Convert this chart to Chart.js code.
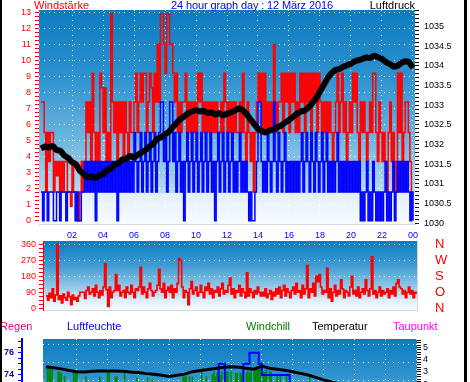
<!DOCTYPE html>
<html><head><meta charset="utf-8">
<script src="https://cdn.jsdelivr.net/npm/chart.js@4.4.1/dist/chart.umd.min.js"></script>
<style>
html,body{margin:0;padding:0;background:#fff;width:470px;height:382px;overflow:hidden;}
body{position:relative;font-family:"Liberation Sans",Arial,sans-serif;}
.t{position:absolute;font-size:11px;line-height:12px;white-space:nowrap;z-index:5;}
canvas{position:absolute;left:0;}
.frame{position:absolute;top:0;height:382px;background:#000;z-index:10;}
</style></head>
<body>
<canvas id="c1" width="466" height="242" style="top:0px"></canvas>
<canvas id="c2" width="466" height="84" style="top:236px"></canvas>
<canvas id="c3" width="466" height="130" style="top:333px"></canvas>
<div class="t" style="left:34px;top:-1px;color:#ff0000">Windstärke</div>
<div class="t" style="left:152px;width:200px;text-align:center;top:-1px;color:#0000ff;letter-spacing:-0.12px">24 hour graph day : 12 März 2016</div>
<div class="t" style="right:55px;top:-1px;color:#000">Luftdruck</div>
<div class="t" style="left:0px;top:320px;color:#e6007e">Regen</div>
<div class="t" style="left:67px;top:320px;color:#0000ff">Luftfeuchte</div>
<div class="t" style="left:246px;top:320px;color:#008000">Windchill</div>
<div class="t" style="left:312px;top:320px;color:#000">Temperatur</div>
<div class="t" style="left:393px;top:320px;color:#ff00ff">Taupunkt</div>
<div class="frame" style="left:0;width:2px"></div>
<div class="frame" style="left:464px;width:3px"></div>
<script>
// ===== data =====
const hourTicks = [2,4,6,8,10,12,14,16,18,20,22,24];
const hourLabels = ['02','04','06','08','10','12','14','16','18','20','22','00'];

// wind gust (km/h), one value every 0.1 h
const windStep = 0.1;
const gust = [
7.4,7.4,5.5,1.8,5.5,3.7,5.5,5.5,1.8,3.7,
2.8,3.7,1.8,3.7,1.8,3.7,3.7,1.8,1.8,0.9,
3.7,1.8,1.8,0,0,1.8,3.7,1.8,3.7,7.4,
5.5,7.4,3.7,9.2,5.5,3.7,5.5,3.7,9.2,8.3,
5.5,8.3,3.7,5.5,3.7,12.9,7.4,5.5,7.4,3.7,
7.4,5.5,7.4,3.7,7.4,5.5,3.7,7.4,5.5,5.5,
7.4,9.2,5.5,7.4,9.2,7.4,9.2,9.2,5.5,7.4,
9.2,8.3,5.5,9.2,7.4,11,7.4,12.9,12.9,11,
9.2,12.9,12.9,11,11,9.2,7.4,9.2,5.5,7.4,
5.5,7.4,7.4,9.2,5.5,7.4,5.5,7.4,5.5,7.4,
5.5,9.2,7.4,9.2,5.5,7.4,5.5,7.4,5.5,7.4,
5.5,7.4,5.5,7.4,5.5,5.5,7.4,5.5,9.2,7.4,
5.5,7.4,5.5,7.4,5.5,7.4,5.5,5.5,7.4,5.5,
9.2,5.5,3.7,7.4,5.5,3.7,5.5,1.8,5.5,7.4,
9.2,7.4,9.2,5.5,9.2,5.5,7.4,5.5,7.4,5.5,
11,7.4,5.5,7.4,7.4,9.2,5.5,9.2,7.4,9.2,
5.5,9.2,7.4,9.2,5.5,7.4,5.5,9.2,7.4,9.2,
5.5,9.2,7.4,9.2,5.5,9.2,7.4,9.2,5.5,9.2,
7.4,5.5,7.4,5.5,7.4,5.5,7.4,5.5,3.7,5.5,
7.4,9.2,5.5,7.4,9.2,5.5,7.4,3.7,5.5,7.4,
5.5,9.2,7.4,9.2,5.5,3.7,7.4,5.5,7.4,5.5,
3.7,5.5,7.4,5.5,9.2,9.2,5.5,3.7,7.4,5.5,
3.7,5.5,3.7,1.8,5.5,7.4,3.7,5.5,3.7,1.8,
9.2,5.5,9.2,3.7,5.5,7.4,7.4,5.5,3.7,0.9,
0.9];
// mean wind (km/h), one value every 0.1 h
const mean = [
1.8,0,1.8,1.8,0,1.8,1.8,1.8,0,0,
1.8,1.8,0,1.8,1.8,1.8,0,1.8,1.8,1.8,
1.8,1.8,0,1.8,0,0,1.8,1.8,3.7,1.8,
3.7,1.8,3.7,1.8,3.7,0,3.7,1.8,3.7,1.8,
3.7,1.8,3.7,1.8,3.7,1.8,3.7,1.8,3.7,0,
3.7,1.8,3.7,1.8,3.7,1.8,3.7,1.8,3.7,1.8,
5.5,3.7,1.8,3.7,5.5,1.8,3.7,5.5,1.8,3.7,
5.5,1.8,3.7,5.5,1.8,3.7,5.5,7.4,7.4,3.7,
5.5,1.8,3.7,7.4,7.4,3.7,5.5,1.8,3.7,5.5,
1.8,3.7,0,3.7,5.5,1.8,3.7,5.5,1.8,3.7,
5.5,1.8,3.7,5.5,1.8,3.7,5.5,1.8,3.7,5.5,
1.8,3.7,0,3.7,5.5,1.8,3.7,5.5,1.8,3.7,
5.5,1.8,3.7,5.5,1.8,3.7,1.8,3.7,5.5,1.8,
3.7,1.8,3.7,1.8,0,1.8,0,0,1.8,3.7,
7.4,7.4,3.7,1.8,3.7,1.8,5.5,3.7,1.8,3.7,
7.4,3.7,1.8,5.5,3.7,1.8,3.7,5.5,1.8,3.7,
1.8,3.7,1.8,3.7,1.8,3.7,1.8,3.7,5.5,1.8,
3.7,5.5,3.7,1.8,5.5,3.7,1.8,5.5,3.7,1.8,
3.7,5.5,1.8,3.7,5.5,1.8,3.7,1.8,3.7,1.8,
3.7,5.5,1.8,3.7,1.8,3.7,1.8,3.7,1.8,3.7,
1.8,3.7,1.8,3.7,1.8,3.7,0,1.8,0,1.8,
3.7,0,1.8,0,3.7,1.8,0,1.8,0,1.8,
0,1.8,3.7,0,1.8,0,1.8,3.7,0,1.8,
3.7,1.8,3.7,1.8,3.7,1.8,3.7,1.8,0,1.8,
0];
// air pressure (hPa), one value every 0.25 h
const pressStep = 0.25;
const pressure = [
1031.90,1031.95,1031.92,1031.97,1031.86,1031.84,1031.72,1031.66,
1031.55,1031.50,1031.33,1031.25,1031.15,1031.20,1031.13,1031.22,
1031.24,1031.34,1031.38,1031.50,1031.52,1031.62,1031.64,1031.72,
1031.66,1031.74,1031.80,1031.86,1031.95,1032.02,1032.15,1032.18,
1032.26,1032.32,1032.44,1032.55,1032.65,1032.72,1032.80,1032.84,
1032.88,1032.84,1032.86,1032.80,1032.82,1032.76,1032.80,1032.74,
1032.78,1032.82,1032.86,1032.92,1032.88,1032.78,1032.65,1032.52,
1032.40,1032.34,1032.30,1032.36,1032.38,1032.44,1032.48,1032.56,
1032.62,1032.70,1032.78,1032.84,1032.86,1032.94,1033.05,1033.18,
1033.35,1033.52,1033.70,1033.82,1033.90,1033.92,1033.98,1034.02,
1034.06,1034.12,1034.15,1034.18,1034.22,1034.20,1034.27,1034.22,
1034.18,1034.10,1034.05,1033.98,1034.00,1034.08,1034.12,1034.10,
1033.95];
// wind direction (degrees), one value every 0.1 h
const dirStep = 0.1;
const direction = [
70,45,85,60,110,40,75,360,50,70,
30,80,60,45,90,65,20,75,50,60,
40,70,90,90,90,55,100,120,80,90,
110,70,130,90,60,100,75,120,250,105,
10,120,60,90,100,190,100,130,70,90,
100,60,120,90,80,130,90,60,110,100,
120,230,80,120,90,60,110,140,100,70,
90,100,130,220,110,90,140,60,100,120,
90,130,60,110,90,140,280,270,120,60,
100,90,20,110,150,80,100,120,70,90,
130,90,60,120,100,140,80,110,60,100,
90,120,70,110,140,80,100,90,130,170,
80,110,60,100,90,130,70,110,90,60,
200,70,110,90,60,100,80,120,90,70,
90,70,110,60,80,100,50,90,70,110,
80,120,60,100,130,70,110,90,60,100,
120,80,140,90,100,60,130,80,110,240,
60,110,90,140,70,180,150,190,120,80,
100,90,225,60,110,40,90,130,70,100,
80,160,110,60,100,90,70,120,180,80,
100,70,120,60,90,110,80,160,100,70,
110,290,80,100,60,90,120,70,100,80,
90,110,60,100,80,120,70,140,160,120,
110,80,100,60,90,120,80,100,60,90,
80];
const dirTickValues = [0,90,180,270,360];
const dirTickLabels = ['N','O','S','W','N'];
// temperature (°C), one value every 0.5 h
const tempStep = 0.5;
const temperature = [
3.43,3.35,3.25,3.12,3.02,2.99,3.05,3.07,3.07,3.07,
3.05,2.99,2.95,2.86,2.80,2.72,2.62,2.72,2.82,3.02,
3.12,3.20,3.28,3.38,3.43,3.38,3.30,3.22,3.48,3.30,
3.22,3.14,3.02,2.88,2.75,2.55,2.35,2.18,2.02,1.90,
1.78,1.66,1.55,1.45,1.38,1.30,1.22,1.15,1.10];
// humidity (%), change points (value holds until next point)
const humHours = [0,11.2,11.6,12.8,13.2,13.8,14.0,15.8,24];
const humidity = [73,75,73,75,76,75,74,73,73];
// wind chill (°C), one value every 0.1 h
const chillStep = 0.1;
const windchill = [
1.5,3.3,3.3,3.2,3.3,1.5,1.5,1.5,3.0,3.0,
2.9,1.5,2.65,1.5,1.5,1.5,1.5,1.5,3.0,3.0,
2.9,1.5,1.5,1.5,1.5,1.5,2.6,1.5,1.5,1.5,
1.5,1.5,1.5,1.5,1.5,2.6,1.5,1.5,1.5,1.5,
3.0,3.0,1.5,1.5,1.5,2.6,2.6,1.5,1.5,1.5,
1.5,2.93,1.5,1.5,1.5,1.5,1.5,1.5,1.5,2.5,
1.5,1.5,1.5,1.5,1.5,1.5,2.5,1.5,1.5,2.35,
1.5,1.5,1.5,1.5,1.5,1.5,1.5,1.5,1.5,1.5,
1.5,1.5,1.5,1.5,1.5,1.5,1.5,1.5,1.5,2.6,
2.6,2.6,1.5,2.6,1.5,2.6,1.5,1.5,1.5,1.5,
1.5,3.0,1.5,1.5,2.65,1.5,1.5,1.5,2.8,3.0,
2.6,2.9,1.5,2.7,3.0,1.5,1.5,3.0,3.0,1.5,
3.0,1.5,1.5,2.9,2.9,1.5,2.9,2.9,1.5,1.5,
2.9,3.1,2.9,3.15,1.5,3.0,3.3,3.4,3.3,3.4,
1.5,3.0,3.0,3.15,1.5,3.0,3.0,1.5,1.5,1.5,
2.75,1.5,2.75,1.5,1.5,1.5,2.7,1.5,1.5,1.5,
1.5,1.5,1.5,1.5,1.5,1.5,1.5,1.5,1.5,1.5,
1.5,2.6,1.5,1.5,1.5,1.5,1.5,1.5,1.5,1.5,
1.5,1.5,1.5,1.5,1.5,1.5,1.5,1.5,1.5,1.5,
1.5,1.5,1.5,1.5,1.5,1.5,1.5,1.5,1.5,1.5,
1.5,1.5,1.5,1.5,1.5,1.5,1.5,1.5,1.5,1.5,
1.5,1.5,1.5,1.5,1.5,1.5,1.5,1.5,1.5,1.5,
1.5,1.5,1.5,1.5,1.5,1.5,1.5,1.5,1.5,1.5,
1.5,1.5,1.5,1.5,1.5,1.5,1.5,1.5,1.5,1.5,
1.5];

// ===== helpers =====
const series = (arr, step) => arr.map((v, i) => ({x: Math.round(i * step * 1000) / 1000, y: v}));
const pairs = (xs, ys) => xs.map((x, i) => ({x: x, y: ys[i]}));
const range = (a, b, s) => { const out = []; const n = Math.round((b - a) / s); for (let i = 0; i <= n; i++) out.push(Math.round((a + i * s) * 1000) / 1000); return out; };
const isMult = (v, m) => Math.abs(v / m - Math.round(v / m)) < 1e-6;
const DOT = 'rgba(255,255,255,0.9)';
const NONE = 'rgba(0,0,0,0)';
const fitW = w => s => { s.width = w; s.paddingTop = 0; s.paddingBottom = 0; };
const fitH = h => s => { s.height = h; s.paddingLeft = 0; s.paddingRight = 0; };

Chart.defaults.font.family = '"Liberation Sans", Arial, sans-serif';
Chart.defaults.font.size = 9;

const bgPlugin = {
  id: 'bg',
  beforeDraw(chart, args, opts) {
    const a = chart.chartArea, ctx = chart.ctx;
    const g = ctx.createLinearGradient(0, a.top, 0, a.bottom);
    opts.stops(chart).forEach(s => g.addColorStop(Math.max(0, Math.min(1, s[0])), s[1]));
    ctx.save(); ctx.fillStyle = g; ctx.fillRect(a.left, a.top, a.right - a.left, a.bottom - a.top); ctx.restore();
  }
};
const common = { responsive: false, animation: false, events: [], plugins: { legend: { display: false }, tooltip: { enabled: false } } };

// ===== chart 1: wind + pressure =====
new Chart(document.getElementById('c1'), {
  type: 'line',
  data: { datasets: [
    { data: series(pressure, pressStep), yAxisID: 'yP', borderColor: '#000', borderWidth: 6, pointRadius: 0, tension: 0, borderJoinStyle: 'bevel' },
    { data: series(mean, windStep), yAxisID: 'yW', borderColor: '#0000ff', borderWidth: 1.5, stepped: true, pointRadius: 0 },
    { data: series(gust, windStep), yAxisID: 'yW', borderColor: '#ff0000', borderWidth: 1.5, stepped: true, pointRadius: 0 }
  ]},
  options: Object.assign({}, common, {
    layout: { padding: { top: 10, left: 0, right: 0, bottom: 0 } },
    plugins: Object.assign({}, common.plugins, { bg: { stops: ch => {
      const a = ch.chartArea, f = (ch.scales.yW.getPixelForValue(1.84) - a.top) / (a.bottom - a.top) + 0.01;
      return [[0, '#0b7cc1'], [0.3, '#2b90cf'], [0.6, '#6cb5e0'], [f - 0.002, '#b6dbef'], [f, '#e2f0f9'], [1, '#f7fbfe']];
    } } }),
    scales: {
      x: { type: 'linear', min: -0.13, max: 24.13,
        afterBuildTicks: s => { s.ticks = hourTicks.map(v => ({ value: v })); },
        afterFit: fitH(18),
        ticks: { autoSkip: false, maxRotation: 0, color: '#0000ff', padding: 6, callback: v => hourLabels[hourTicks.indexOf(v)] },
        grid: { color: DOT, drawTicks: false },
        border: { color: '#d6d6d6', dash: [1, 4] } },
      yW: { position: 'left', min: -0.2, max: 13.14,
        afterBuildTicks: s => { s.ticks = range(0, 13, 0.25).map(v => ({ value: v })); },
        afterFit: fitW(39),
        ticks: { autoSkip: false, color: '#ff0000', padding: 4, callback: v => Number.isInteger(v) ? String(v) : '' },
        grid: { color: c => (c.tick && Number.isInteger(c.tick.value)) ? DOT : NONE, tickColor: '#ff0000', tickLength: 4 },
        border: { display: false, dash: [1, 4] } },
      yP: { position: 'right', min: 1029.975, max: 1035.425,
        afterBuildTicks: s => { s.ticks = range(1030, 1035.4, 0.1).map(v => ({ value: v })); },
        afterFit: fitW(51),
        ticks: { autoSkip: false, color: '#000', padding: 5, callback: v => isMult(v, 0.5) ? String(Math.round(v * 10) / 10) : '' },
        grid: { drawOnChartArea: false, tickColor: '#000', tickLength: 4 },
        border: { display: false } }
    }
  }),
  plugins: [bgPlugin]
});

// ===== chart 2: wind direction =====
new Chart(document.getElementById('c2'), {
  type: 'line',
  data: { datasets: [
    { data: series(direction, dirStep), yAxisID: 'yD', borderColor: '#ff0000', borderWidth: 1.6, stepped: true, pointRadius: 0 }
  ]},
  options: Object.assign({}, common, {
    layout: { padding: { top: 5, left: 0, right: 0, bottom: 10 } },
    plugins: Object.assign({}, common.plugins, { bg: { stops: () => [[0, '#0b7cc1'], [0.35, '#3d9bd3'], [0.7, '#9ccdea'], [0.85, '#dcedf8'], [1, '#f7fbfe']] } }),
    scales: {
      x: { type: 'linear', min: -0.19, max: 24.06,
        afterFit: fitH(0),
        ticks: { display: false }, grid: { display: false },
        border: { color: '#d6d6d6' } },
      yD: { position: 'left', min: -9.6, max: 378.6,
        afterBuildTicks: s => { s.ticks = range(0, 360, 22.5).map(v => ({ value: v })); },
        afterFit: fitW(43),
        ticks: { autoSkip: false, color: '#ff0000', padding: 3, callback: v => isMult(v, 90) ? String(v) : '' },
        grid: { color: c => (c.tick && isMult(c.tick.value, 90) && c.tick.value > 0) ? DOT : NONE, tickColor: '#ff0000', tickLength: 4 },
        border: { color: '#ff0000', dash: [1, 4] } },
      yN: { position: 'right', min: -9.6, max: 378.6,
        afterBuildTicks: s => { s.ticks = dirTickValues.map(v => ({ value: v })); },
        afterFit: fitW(49),
        ticks: { autoSkip: false, color: '#ff0000', padding: 18, font: { size: 13, family: '"Liberation Sans Narrow", "Liberation Sans", Arial' },
          callback: v => dirTickLabels[dirTickValues.indexOf(v)] },
        grid: { drawOnChartArea: false, drawTicks: false },
        border: { color: '#d6d6d6' } }
    }
  }),
  plugins: [bgPlugin]
});

// ===== chart 3: temperature / humidity =====
new Chart(document.getElementById('c3'), {
  type: 'line',
  data: { datasets: [
    { type: 'line', data: series(temperature, tempStep), yAxisID: 'yT', borderColor: '#000', borderWidth: 3, pointRadius: 0, tension: 0 },
    { type: 'line', data: pairs(humHours, humidity), yAxisID: 'yH', borderColor: '#0000ff', borderWidth: 2, stepped: true, pointRadius: 0 },
    { type: 'bar', data: series(windchill, chillStep), yAxisID: 'yT', backgroundColor: '#008a00', barThickness: 1 }
  ]},
  options: Object.assign({}, common, {
    layout: { padding: { top: 6, left: 0, right: 0, bottom: 0 } },
    plugins: Object.assign({}, common.plugins, { bg: { stops: () => [[0, '#0b7cc1'], [0.4, '#3a99d2'], [0.8, '#9ccdea'], [1, '#eef7fc']] } }),
    scales: {
      x: { type: 'linear', min: -0.19, max: 24.06, offset: false,
        afterBuildTicks: s => { s.ticks = hourTicks.map(v => ({ value: v })); },
        afterFit: fitH(10),
        ticks: { display: false },
        grid: { color: DOT, drawTicks: false, offset: false },
        border: { display: false, dash: [1, 4] } },
      yH: { position: 'left', weight: 2, min: 67.0, max: 77.23,
        afterBuildTicks: s => { s.ticks = range(67, 77, 0.5).map(v => ({ value: v })); },
        afterFit: fitW(22),
        ticks: { autoSkip: false, color: '#0000cc', padding: 4, font: { weight: 'bold' }, callback: v => isMult(v, 2) ? String(v) : '' },
        grid: { drawOnChartArea: false, tickColor: '#0000ff', tickLength: 4 },
        border: { color: '#0000ff', width: 2 } },
      ySp: { position: 'left', weight: 1, min: -0.04, max: 6.293,
        afterBuildTicks: s => { s.ticks = range(0, 6, 1).map(v => ({ value: v })); },
        afterFit: fitW(21),
        ticks: { display: false },
        grid: { color: DOT, drawTicks: false },
        border: { display: false, dash: [1, 4] } },
      yT: { position: 'right', min: -3.65, max: 5.70,
        afterBuildTicks: s => { s.ticks = range(-3.6, 5.6, 0.2).map(v => ({ value: v })); },
        afterFit: fitW(49),
        ticks: { autoSkip: false, color: '#000', padding: 2, callback: v => isMult(v, 1) ? String(Math.round(v)) : '' },
        grid: { drawOnChartArea: false, tickColor: '#000', tickLength: 4 },
        border: { display: false } }
    }
  }),
  plugins: [bgPlugin]
});
</script>
</body></html>
